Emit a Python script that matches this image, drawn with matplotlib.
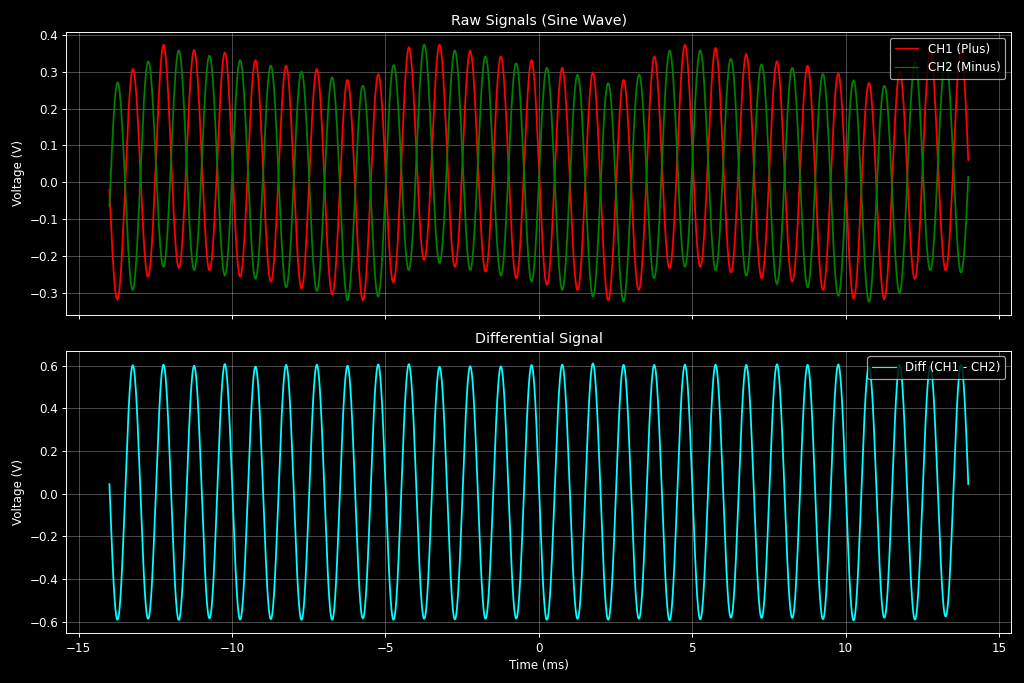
import numpy as np
import matplotlib
matplotlib.use('Agg')
import matplotlib.pyplot as plt

# ---- values ----
# Upper extreme of each half-cycle (CH2 peak for even index, CH1 peak for odd index), volts
upper_peaks = [0.271, 0.308, 0.328, 0.374, 0.358, 0.360, 0.344, 0.353, 0.332, 0.332,
               0.317, 0.317, 0.301, 0.308, 0.285, 0.278, 0.262, 0.294, 0.318, 0.367,
               0.374, 0.374, 0.358, 0.358, 0.342, 0.342, 0.323, 0.332, 0.311, 0.311,
               0.292, 0.299, 0.269, 0.278, 0.292, 0.342, 0.358, 0.374, 0.358, 0.365,
               0.335, 0.349, 0.320, 0.329, 0.311, 0.317, 0.294, 0.296, 0.277, 0.270,
               0.262, 0.301, 0.326, 0.358, 0.335, 0.358]
# Lower extreme of each half-cycle (CH1 trough for even index, CH2 trough for odd index), volts
lower_troughs = [-0.319, -0.293, -0.257, -0.230, -0.233, -0.239, -0.239, -0.254, -0.257, -0.263,
                 -0.270, -0.286, -0.289, -0.296, -0.305, -0.321, -0.321, -0.311, -0.272, -0.239,
                 -0.211, -0.220, -0.230, -0.239, -0.243, -0.254, -0.261, -0.270, -0.279, -0.293,
                 -0.293, -0.311, -0.321, -0.325, -0.293, -0.261, -0.234, -0.230, -0.230, -0.239,
                 -0.245, -0.254, -0.261, -0.277, -0.270, -0.286, -0.293, -0.309, -0.316, -0.325,
                 -0.318, -0.302, -0.263, -0.239, -0.239, -0.245]
t_start_ms, t_end_ms = -14.0, 14.0
first_extreme_ms = -13.738
half_period_ms = 0.5
ch1_start, ch2_start = -0.020, -0.066
ch1_end, ch2_end = 0.049, 0.025

# ---- build traces from the read extremes ----
p = np.array(upper_peaks)
q = np.array(lower_troughs)
t_nodes = first_extreme_ms + half_period_ms * np.arange(len(p))
cm_nodes = (p + q) / 2.0
amp_nodes = (p - q) / 2.0
cm_t = np.concatenate([[t_start_ms], t_nodes, [t_end_ms]])
cm_v = np.concatenate([[(ch1_start + ch2_start) / 2.0], cm_nodes, [(ch1_end + ch2_end) / 2.0]])

t = np.linspace(t_start_ms, t_end_ms, 8001)
cm = np.interp(t, cm_t, cm_v)
amp = np.interp(t, t_nodes, amp_nodes)
carrier = np.cos(np.pi * (t - first_extreme_ms) / half_period_ms)
ch2 = cm + amp * carrier
ch1 = cm - amp * carrier
diff = ch1 - ch2

plt.style.use('dark_background')
fig, (ax1, ax2) = plt.subplots(2, 1, figsize=(12, 683 / (1024 / 12)), sharex=True)

ax1.plot(t, ch1, color='red', lw=1.5, label='CH1 (Plus)')
ax1.plot(t, ch2, color='green', lw=1.5, label='CH2 (Minus)')
ax1.set_title('Raw Signals (Sine Wave)')
ax1.set_ylabel('Voltage (V)')
ax1.grid(True, alpha=0.3)
leg1 = ax1.legend(loc='upper right')
for ln in leg1.get_lines():
    ln.set_linewidth(1.0)

ax2.plot(t, diff, color='cyan', lw=1.5, label='Diff (CH1 - CH2)')
ax2.set_title('Differential Signal')
ax2.set_xlabel('Time (ms)')
ax2.set_ylabel('Voltage (V)')
ax2.grid(True, alpha=0.3)
leg2 = ax2.legend(loc='upper right')
for ln in leg2.get_lines():
    ln.set_linewidth(1.0)

fig.tight_layout()
fig.savefig('out.png', dpi=1024 / 12)
